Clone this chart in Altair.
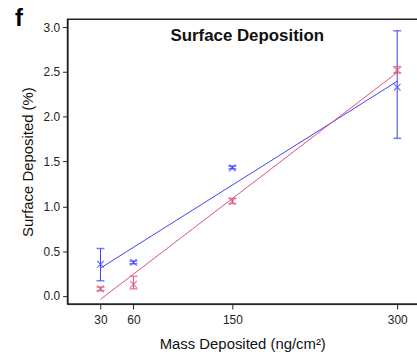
import altair as alt
import pandas as pd

mass = [30, 60, 150, 300]
blue_mean = [0.354, 0.376, 1.43, 2.33]
blue_lo = [0.17, 0.36, 1.42, 1.76]
blue_hi = [0.53, 0.39, 1.45, 2.96]
pink_mean = [0.08, 0.13, 1.06, 2.52]
pink_lo = [0.06, 0.08, 1.03, 2.49]
pink_hi = [0.10, 0.22, 1.09, 2.56]
y_ticks = [0.0, 0.25, 0.5, 0.75, 1.0, 1.25, 1.5, 1.75, 2.0, 2.25, 2.5, 2.75, 3.0]
x_ticks = [30, 60, 150, 300]

BLUE = "#4040ff"
PINK = "#e0507f"

rows = []
for s, m, lo, hi in (("blue", blue_mean, blue_lo, blue_hi), ("pink", pink_mean, pink_lo, pink_hi)):
    for xv, mv, l, h in zip(mass, m, lo, hi):
        rows.append({"series": s, "mass": xv, "mean": mv, "lo": l, "hi": h})
df = pd.DataFrame(rows)

xs = alt.Scale(domain=[0, 318], nice=False, zero=False)
ys = alt.Scale(domain=[-0.09, 3.09], nice=False, zero=False)
col = alt.Color("series:N", scale=alt.Scale(domain=["blue", "pink"], range=[BLUE, PINK]), legend=None)

FONT = "Liberation Sans"

xax = alt.Axis(values=x_ticks, title="Mass Deposited (ng/cm²)", grid=False, labelFontSize=12,
               titleFontSize=15, labelColor="#222", titleColor="#111", titleFontWeight="normal",
               tickSize=5, labelPadding=6, titlePadding=11, domainColor="#222", tickColor="#222",
               labelFont=FONT, titleFont=FONT)
yax = alt.Axis(values=y_ticks, format=".1f", title="Surface Deposited (%)", grid=False, labelFontSize=12,
               labelExpr="(datum.value * 4) % 2 == 0 ? datum.label : ''",
               tickSize={"condition": {"test": "(datum.value * 4) % 2 != 0", "value": 3}, "value": 5},
               titleFontSize=15, labelColor="#222", titleColor="#111", titleFontWeight="normal",
               labelPadding=3, titlePadding=8, domainColor="#222", tickColor="#222",
               labelFont=FONT, titleFont=FONT)

base = alt.Chart(df)

frame = alt.Chart(pd.DataFrame({"a": [0]})).mark_rect(fill="transparent", stroke="#222", strokeWidth=1.5).encode(
    x=alt.value(0), x2=alt.value(360), y=alt.value(0), y2=alt.value(287))

lines = base.transform_regression("mass", "mean", groupby=["series"], extent=[30, 300]).mark_line(
    strokeWidth=1, clip=True).encode(
    x=alt.X("mass:Q", scale=xs, axis=xax),
    y=alt.Y("mean:Q", scale=ys, axis=yax),
    color=col)

rules = base.mark_rule(strokeWidth=1).encode(
    x=alt.X("mass:Q", scale=xs), y=alt.Y("lo:Q", scale=ys), y2="hi:Q", color=col)

cap_lo = base.mark_tick(orient="horizontal", size=8, thickness=1.5).encode(
    x=alt.X("mass:Q", scale=xs), y=alt.Y("lo:Q", scale=ys), color=col)
cap_hi = base.mark_tick(orient="horizontal", size=8, thickness=1.5).encode(
    x=alt.X("mass:Q", scale=xs), y=alt.Y("hi:Q", scale=ys), color=col)

pts = base.mark_point(shape="M-1,-1L1,1M-1,1L1,-1", filled=False, size=45, strokeWidth=1.3).encode(
    x=alt.X("mass:Q", scale=xs), y=alt.Y("mean:Q", scale=ys), color=col)

title_df = pd.DataFrame({"t": ["Surface Deposition"]})
title = alt.Chart(title_df).mark_text(font=FONT, fontSize=17, fontWeight="bold", color="#111",
                                       align="center", baseline="middle").encode(
    text="t:N", x=alt.value(181), y=alt.value(17))

letter = alt.Chart(pd.DataFrame({"t": ["f"]})).mark_text(font=FONT, fontSize=24, fontWeight="bold",
                                                         color="#000", align="left", baseline="middle").encode(
    text="t:N", x=alt.value(-53), y=alt.value(0))

chart = alt.layer(frame, lines, rules, cap_lo, cap_hi, pts, title, letter).properties(
    width=352, height=287,
    autosize=alt.AutoSizeParams(type="none"),
    padding={"left": 68, "top": 18, "right": 0, "bottom": 49},
).configure_view(stroke="#222", strokeWidth=1.2).configure(background="white")

chart.save("out.html", embed_options={"renderer": "svg", "actions": False})
